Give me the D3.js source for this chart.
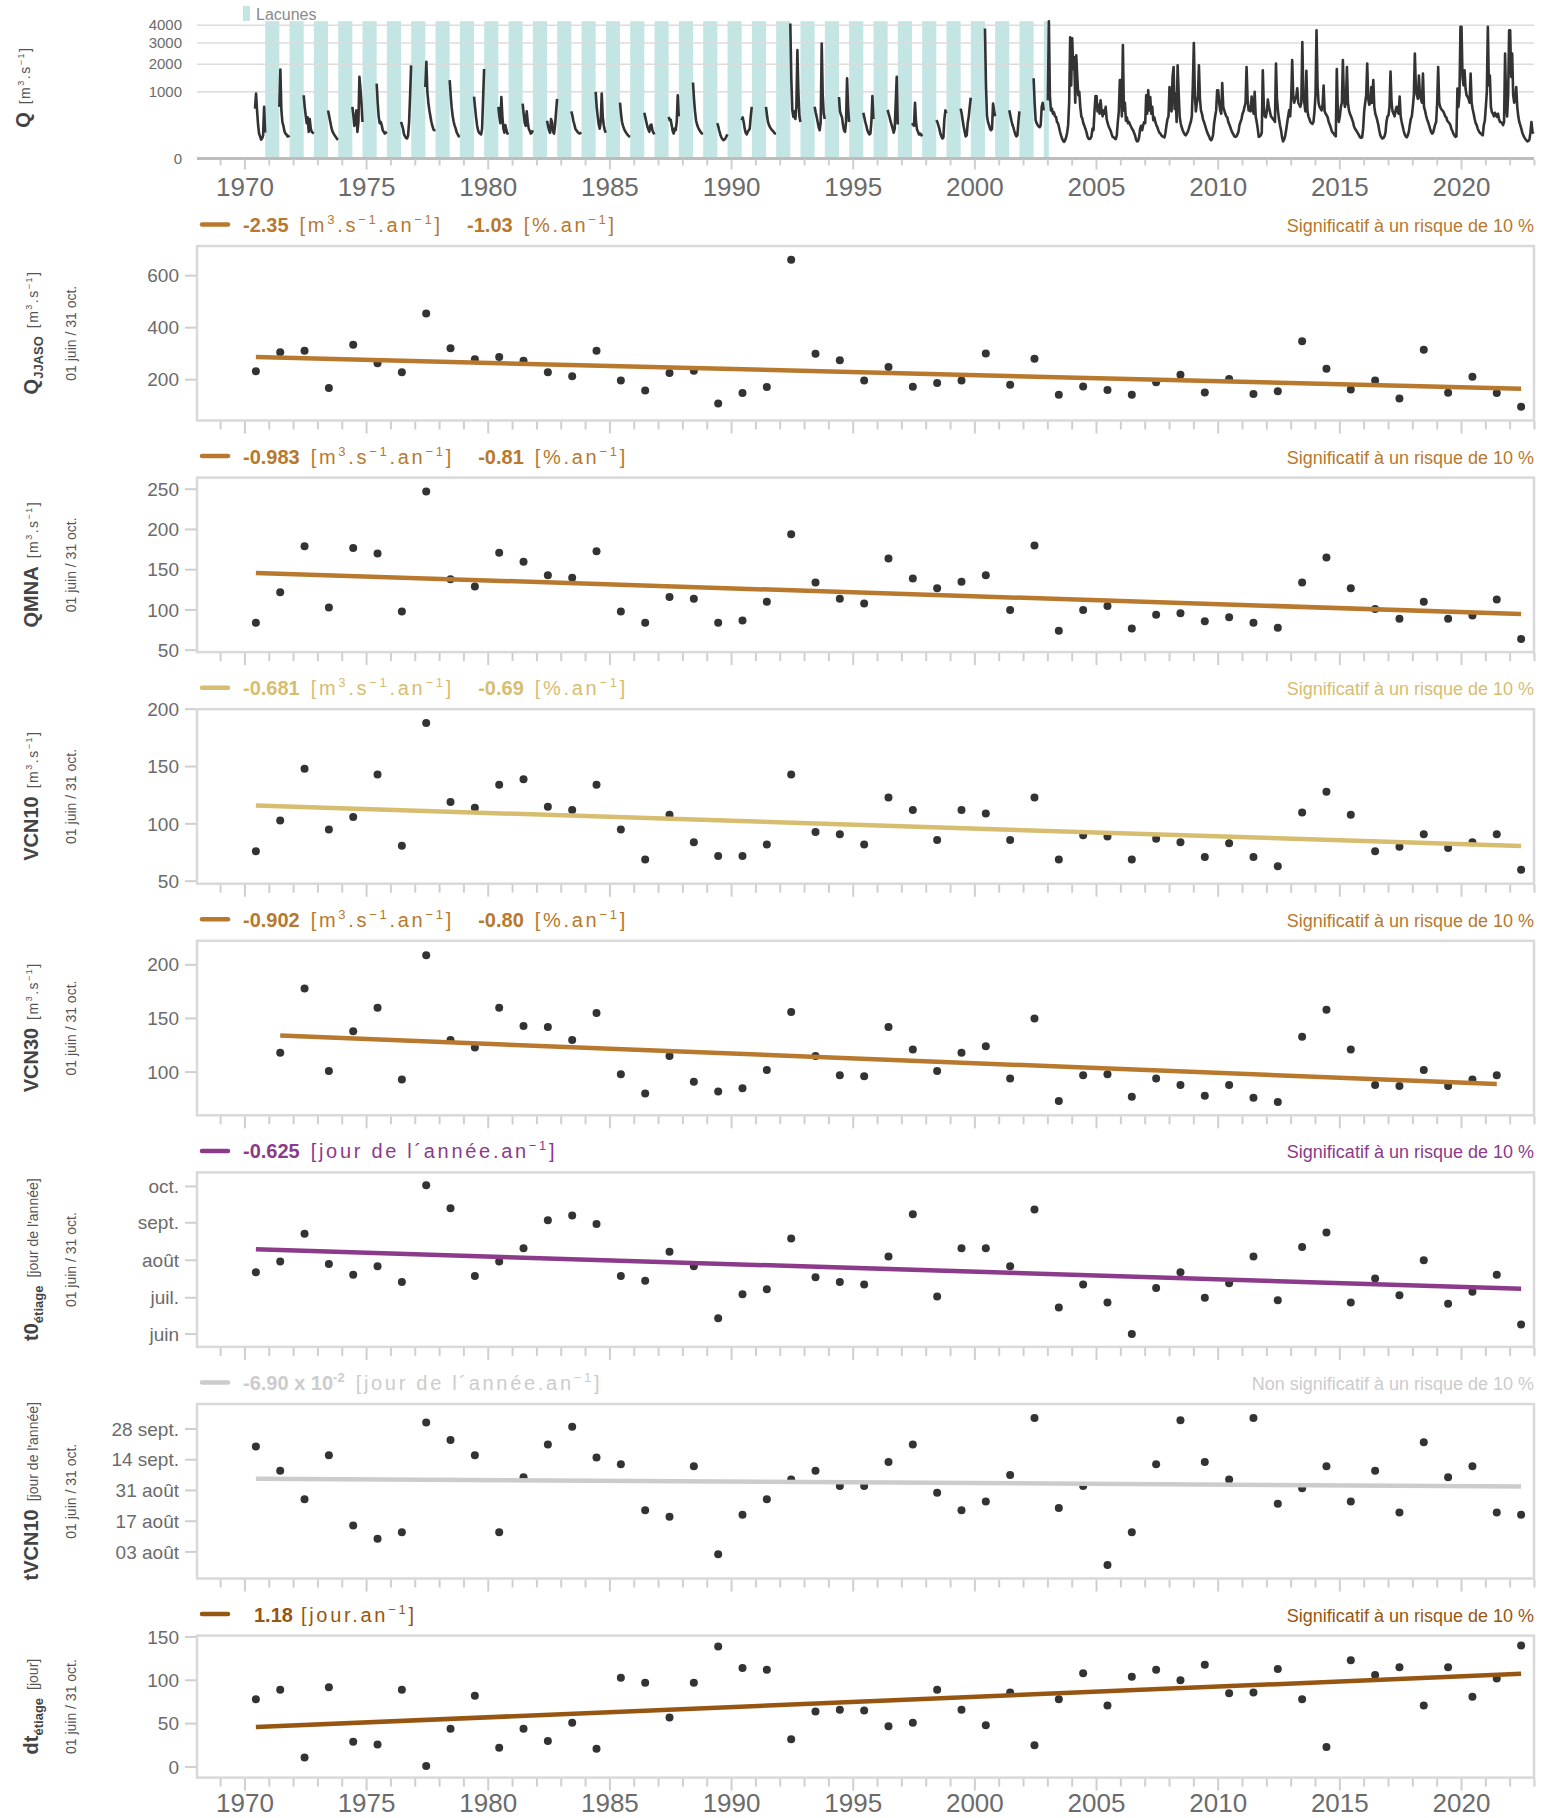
<!DOCTYPE html>
<html>
<head>
<meta charset="utf-8">
<script src="https://cdn.jsdelivr.net/npm/d3@7"></script>
<style>
  body { margin: 0; background: #fff; }
  svg { display: block; }
  text { font-family: "Liberation Sans", Arial, sans-serif; }
</style>
</head>
<body>
<svg id="chart" width="1546" height="1818"></svg>
<script>
// ---------------------------------------------------------------------------
// Data
// ---------------------------------------------------------------------------
const years = d3.range(1970, 2023);

const qjjaso = [232, 305, 311, 168, 334, 263, 229, 454, 321, 279,
  287, 273, 229, 213, 311, 197, 158, 226, 234, 108,
  149, 172, 661, 300, 275, 197, 249, 173, 187, 197,
  301, 180, 280, 142, 174, 160, 142, 190, 219, 151,
  203, 145, 155, 348, 242, 162, 197, 128, 315, 150,
  211, 149, 96];

const qmna = [84, 122, 179, 103, 177, 170, 98, 247, 138, 129,
  171, 160, 143, 140, 173, 98, 84, 116, 114, 84,
  87, 110, 194, 134, 114, 108, 164, 139, 127, 135,
  143, 100, 180, 74, 100, 105, 77, 94, 96, 86,
  91, 84, 78, 134, 165, 127, 101, 89, 110, 89,
  93, 113, 64];

const vcn10 = [76, 103, 148, 95, 106, 143, 81, 188, 119, 114,
  134, 139, 115, 112, 134, 95, 69, 108, 84, 72,
  72, 82, 143, 93, 91, 82, 123, 112, 86, 112,
  109, 86, 123, 69, 90, 89, 69, 87, 84, 71,
  83, 71, 63, 110, 128, 108, 76, 80, 91, 79,
  84, 91, 60];

const vcn30 = [null, 118, 178, 101, 138, 160, 93, 209, 130, 123,
  160, 143, 142, 130, 155, 98, 80, 115, 91, 82,
  85, 102, 156, 115, 97, 96, 142, 121, 101, 118,
  124, 94, 150, 73, 97, 98, 77, 94, 88, 78,
  88, 76, 72, 133, 158, 121, 88, 87, 102, 87,
  93, 97, null];

// day of year
const t0Etiage = [203, 212, 235, 210, 201, 208, 195, 275, 256, 200,
  212, 223, 246, 250, 243, 200, 196, 220, 208, 165,
  185, 189, 231, 199, 195, 193, 216, 251, 183, 223,
  223, 208, 255, 174, 193, 178, 152, 190, 203, 182,
  194, 216, 180, 224, 236, 178, 198, 184, 213, 177,
  187, 201, 160];

const tVcn10 = [263, 252, 239, 259, 227, 221, 224, 274, 266, 259,
  224, 249, 264, 272, 258, 255, 234, 231, 254, 214,
  232, 239, 248, 252, 245, 245, 256, 264, 242, 234,
  238, 250, 276, 235, 245, 209, 224, 255, 275, 256,
  248, 276, 237, 244, 254, 238, 252, 233, 265, 249,
  254, 233, 232];

const dtEtiage = [78, 89, 11, 92, 29, 26, 89, 1, 44, 82,
  22, 44, 30, 51, 21, 103, 97, 57, 97, 139,
  114, 112, 32, 64, 66, 65, 47, 51, 89, 66,
  48, 86, 25, 78, 108, 71, 104, 112, 100, 118,
  85, 86, 113, 78, 23, 123, 106, 115, 71, 115,
  81, 102, 140];

// trend: slope per year and value at first plotted year
const trendSlopes = [-2.35, -0.983, -0.681, -0.902, -0.625, -0.069, 1.18];
const trendStarts = [287, 146, 116, 134, 222, 248.4, 46];

// daily flow, summer only (1 June -> 31 Oct, ~15-day steps), 1970-2002
const qSummer = [
  [560, 950, 520, 260, 140, 110, 80, 90, 120, 600, 150],
  [600, 1780, 520, 300, 240, 170, 140, 130, 110, 110, 120],
  [900, 600, 420, 280, 380, 160, 350, 200, 160, 150, 140],
  [520, 420, 320, 240, 180, 150, 130, 115, 100, 85, 80],
  [600, 420, 240, 350, 520, 160, 300, 1500, 1100, 700, 300],
  [1260, 700, 390, 280, 300, 250, 180, 160, 140, 150, 160],
  [300, 250, 200, 130, 110, 95, 90, 120, 300, 900, 1950],
  [1150, 2100, 1000, 700, 520, 400, 300, 240, 190, 180, 180],
  [1380, 900, 580, 400, 300, 240, 200, 150, 130, 110, 105],
  [860, 600, 390, 250, 180, 150, 140, 130, 200, 800, 1800],
  [600, 400, 280, 850, 400, 200, 150, 250, 180, 140, 150],
  [680, 450, 290, 240, 500, 300, 200, 170, 140, 150, 180],
  [320, 240, 180, 150, 350, 300, 160, 140, 250, 500, 800],
  [500, 420, 320, 260, 200, 180, 160, 150, 140, 145, 150],
  [1000, 600, 400, 260, 200, 300, 950, 400, 250, 180, 150],
  [700, 450, 300, 240, 200, 170, 150, 135, 120, 110, 105],
  [470, 380, 300, 230, 190, 160, 250, 260, 180, 150, 130],
  [390, 330, 340, 250, 170, 140, 200, 180, 300, 900, 400],
  [1300, 800, 500, 330, 260, 220, 190, 170, 150, 140, 140],
  [280, 230, 170, 130, 100, 85, 75, 80, 90, 110, 130],
  [330, 380, 300, 200, 150, 130, 160, 180, 200, 400, 600],
  [600, 420, 300, 250, 220, 200, 180, 170, 150, 140, 140],
  [4100, 1400, 520, 390, 500, 350, 600, 2640, 1000, 400, 300],
  [600, 480, 390, 300, 220, 180, 300, 2970, 900, 450, 350],
  [850, 500, 430, 380, 250, 180, 160, 300, 1450, 600, 300],
  [470, 380, 300, 240, 180, 150, 130, 140, 300, 880, 350],
  [530, 450, 380, 300, 250, 200, 150, 200, 700, 1500, 260],
  [280, 260, 240, 700, 300, 190, 160, 130, 140, 130, 110],
  [330, 300, 250, 200, 140, 110, 90, 100, 350, 520, 460],
  [560, 460, 330, 230, 160, 110, 120, 280, 390, 600, 830],
  [3800, 1200, 400, 300, 250, 200, 180, 200, 680, 520, 400],
  [525, 420, 330, 260, 220, 170, 130, 110, 120, 300, 500],
  [1450, 700, 330, 280, 250, 230, 220, 250, 600, 700, 520]
];

// daily flow, full years (half-month steps), 2003-2022
const qContinuous = [
  [760, 4240, 900, 520, 560, 450, 480, 400, 390, 300, 280, 220, 160, 120, 90, 70, 62, 75, 100, 150, 250, 700, 3300, 1200],
  [3250, 1800, 2300, 700, 2400, 1500, 900, 1000, 600, 400, 360, 280, 240, 200, 160, 110, 90, 85, 90, 110, 200, 180, 500, 880],
  [880, 500, 650, 450, 760, 500, 400, 520, 450, 600, 350, 280, 230, 200, 170, 130, 105, 100, 90, 85, 120, 300, 500, 1380],
  [1380, 400, 2900, 520, 700, 320, 380, 280, 300, 260, 230, 200, 180, 150, 120, 80, 65, 70, 100, 200, 240, 180, 250, 300],
  [280, 900, 450, 1050, 520, 850, 450, 600, 330, 380, 300, 250, 220, 180, 150, 140, 120, 110, 105, 100, 150, 250, 350, 400],
  [1150, 600, 500, 1500, 1880, 550, 950, 300, 1950, 1000, 400, 280, 220, 180, 150, 130, 120, 140, 160, 200, 250, 300, 400, 1200],
  [3000, 900, 500, 700, 850, 1950, 800, 520, 450, 350, 300, 250, 200, 160, 130, 110, 85, 75, 90, 130, 280, 400, 520, 1050],
  [1050, 700, 520, 450, 1280, 600, 520, 450, 400, 380, 300, 260, 220, 180, 150, 130, 110, 105, 110, 130, 160, 250, 300, 350],
  [450, 500, 600, 700, 1880, 800, 520, 600, 500, 860, 600, 450, 1000, 400, 300, 200, 105, 110, 120, 150, 1750, 600, 400, 380],
  [500, 780, 600, 500, 400, 380, 350, 330, 300, 2030, 800, 500, 350, 250, 180, 100, 65, 80, 110, 180, 280, 400, 525, 400],
  [800, 2180, 900, 700, 800, 860, 1110, 700, 650, 600, 700, 3050, 900, 700, 500, 1730, 520, 400, 350, 300, 280, 270, 300, 500],
  [900, 3700, 1200, 700, 600, 560, 520, 650, 1200, 500, 450, 420, 380, 300, 260, 220, 170, 150, 140, 120, 110, 1800, 500, 300],
  [400, 600, 700, 2180, 800, 600, 700, 1880, 700, 520, 450, 400, 350, 300, 230, 200, 180, 160, 140, 120, 100, 95, 100, 200],
  [500, 700, 900, 2030, 800, 650, 680, 1150, 700, 1380, 600, 450, 390, 320, 250, 170, 120, 100, 90, 95, 110, 150, 300, 400],
  [420, 600, 1700, 700, 500, 450, 400, 520, 600, 500, 450, 860, 400, 300, 230, 170, 130, 110, 100, 120, 160, 250, 350, 400],
  [600, 900, 2480, 1100, 900, 800, 1550, 900, 800, 700, 1620, 600, 520, 420, 350, 300, 250, 200, 160, 140, 150, 200, 260, 300],
  [700, 1880, 700, 600, 550, 520, 500, 450, 400, 380, 320, 300, 280, 250, 200, 170, 140, 120, 105, 110, 1100, 600, 900, 3900],
  [3900, 1500, 1200, 1750, 1100, 900, 860, 800, 700, 1620, 700, 550, 450, 350, 280, 250, 200, 170, 150, 140, 130, 120, 250, 320],
  [600, 1000, 3900, 1200, 1550, 600, 480, 450, 400, 470, 420, 390, 450, 350, 300, 300, 280, 250, 300, 2480, 700, 400, 900, 3700],
  [3700, 1500, 2480, 900, 700, 800, 1150, 600, 400, 300, 250, 200, 150, 120, 100, 85, 75, 65, 70, 80, 150, 300, 160, 140]
];

const qTicks = [0, 1000, 2000, 3000, 4000];
const yearLabels = d3.range(1970, 2021, 5);
const monthTicks = [152, 182, 213, 244, 274];
const monthLabels = ["juin", "juil.", "août", "sept.", "oct."];
const dayTicks = [215, 229, 243, 257, 271];
const dayLabels = ["03 août", "17 août", "31 août", "14 sept.", "28 sept."];

// ---------------------------------------------------------------------------
// Setup
// ---------------------------------------------------------------------------
const svg = d3.select("#chart");
const left = 197, right = 1534;
const x = d3.scaleLinear().domain([1968.03, 2022.98]).range([left, right]);
const pointOffset = 0.45;
const tickGray = "#cfcfcf";
const labelGray = "#6b6b6b";

// rich text helper: tspans with superscripts / subscripts
function rich(text, parts) {
  let shift = 0;
  parts.forEach(p => {
    const target = p.sup ? -p.sup : p.sub ? p.sub : 0;
    const ts = text.append("tspan")
      .attr("dy", target - shift)
      .attr("dx", p.dx || 0)
      .style("font-size", p.size + "px")
      .text(p.t);
    if (p.bold) ts.style("font-weight", "bold");
    if (p.ls) ts.style("letter-spacing", p.ls + "px");
    if (p.fill) ts.attr("fill", p.fill);
    shift = target;
  });
}

const m3sUnits = [
  { t: "[m", size: 14, dx: 8, ls: 1.5, fill: "#555" },
  { t: "3", size: 9, sup: 6, ls: 1.5, fill: "#555" },
  { t: ".s", size: 14, ls: 1.5, fill: "#555" },
  { t: "−1", size: 9, sup: 6, ls: 1.5, fill: "#555" },
  { t: "]", size: 14, fill: "#555" }
];

function yearTicks(g, y0, minor, major) {
  const yrs = d3.range(1969, 2024);
  g.selectAll("line.xt").data(yrs).join("line")
    .attr("class", "xt")
    .attr("x1", d => x(d)).attr("x2", d => x(d))
    .attr("y1", y0).attr("y2", d => y0 + (d % 5 === 0 ? major : minor))
    .attr("stroke", tickGray).attr("stroke-width", 2);
}

function yearText(g, yb) {
  g.selectAll("text.yl").data(yearLabels).join("text")
    .attr("class", "yl")
    .attr("x", d => x(d)).attr("y", yb)
    .attr("text-anchor", "middle")
    .attr("fill", labelGray)
    .style("font-size", "26px")
    .text(d => d);
}

// ---------------------------------------------------------------------------
// 1) Q panel (daily flow, sqrt scale)
// ---------------------------------------------------------------------------
const qg = svg.append("g");
const yq = d3.scaleSqrt().domain([0, 4240]).range([158.5, 21.2]).clamp(true);

const bands = d3.range(1970, 2003).map(yr => [yr + 0.833, Math.min(yr + 1.415, 2003.04)]);
qg.selectAll("rect.band").data(bands).join("rect")
  .attr("class", "band")
  .attr("x", d => x(d[0])).attr("width", d => x(d[1]) - x(d[0]))
  .attr("y", yq(4240)).attr("height", yq(0) - yq(4240))
  .attr("fill", "#c3e6e5");

qg.selectAll("line.grid").data(qTicks.slice(1)).join("line")
  .attr("class", "grid")
  .attr("x1", left).attr("x2", right)
  .attr("y1", d => yq(d)).attr("y2", d => yq(d))
  .attr("stroke", "#dcdcdc").attr("stroke-width", 1.5);

qg.selectAll("text.qt").data(qTicks).join("text")
  .attr("class", "qt")
  .attr("x", 182).attr("y", d => yq(d)).attr("dy", "0.35em")
  .attr("text-anchor", "end").attr("fill", labelGray)
  .style("font-size", "15px")
  .text(d => d);

const summerSteps = d3.range(11).map(i => 0.415 + i * 0.0415);
const qSegments = qSummer.map((vals, k) => vals.map((v, i) => [1970 + k + summerSteps[i], v]));
qSegments.push(qContinuous.flatMap((vals, k) => vals.map((v, i) => [2003 + k + i / 24, v])));

const qLine = d3.line().x(d => x(d[0])).y(d => yq(d[1]));
qg.selectAll("path.q").data(qSegments).join("path")
  .attr("class", "q")
  .attr("d", qLine)
  .attr("fill", "none").attr("stroke", "#333").attr("stroke-width", 2.6)
  .attr("stroke-linejoin", "round");

qg.append("line")
  .attr("x1", left).attr("x2", right)
  .attr("y1", yq(0)).attr("y2", yq(0))
  .attr("stroke", "#bdbdbd").attr("stroke-width", 3);

yearTicks(qg, yq(0) + 1, 6, 10);
yearText(qg, 196);

// lacunes legend
qg.append("rect").attr("x", 243).attr("y", 6).attr("width", 7).attr("height", 15).attr("fill", "#c3e6e5");
qg.append("text").attr("x", 256).attr("y", 20).attr("fill", "#8a8a8a")
  .style("font-size", "16px").text("Lacunes");

const qTitle = qg.append("text")
  .attr("transform", "translate(30,88) rotate(-90)")
  .attr("text-anchor", "middle").attr("fill", "#444");
rich(qTitle, [{ t: "Q", size: 20, bold: true }].concat(m3sUnits));

// ---------------------------------------------------------------------------
// 2) Trend panels
// ---------------------------------------------------------------------------
const LS = 2.7;
const supU = (t) => ({ t, size: 13, sup: 8, ls: LS });
const flowLegend = (v1, v2) => [
  { t: v1, size: 20, bold: true },
  { t: "[m", size: 20, dx: 11, ls: LS }, supU("3"), { t: ".s", size: 20, ls: LS },
  supU("−1"), { t: ".an", size: 20, ls: LS }, supU("−1"), { t: "]", size: 20 },
  { t: v2, size: 20, bold: true, dx: 27 },
  { t: "[%.an", size: 20, dx: 11, ls: LS }, supU("−1"), { t: "]", size: 20 }
];
const dayLegend = [
  { t: "[jour de l´année.an", size: 20, dx: 11, ls: LS }, supU("−1"), { t: "]", size: 20 }
];

const panels = [
  { name: "Q", sub: "JJASO", units: m3sUnits, values: qjjaso, color: "#b8782d",
    domain: [43, 714], h: 174.5, ticks: [200, 400, 600], legend: flowLegend("-2.35", "-1.03"), signif: true },
  { name: "QMNA", units: m3sUnits, values: qmna, color: "#b8782d",
    domain: [47.6, 264.4], h: 174.5, ticks: [50, 100, 150, 200, 250], legend: flowLegend("-0.983", "-0.81"), signif: true },
  { name: "VCN10", units: m3sUnits, values: vcn10, color: "#d7bd70",
    domain: [47.8, 200], h: 174.5, ticks: [50, 100, 150, 200], legend: flowLegend("-0.681", "-0.69"), signif: true },
  { name: "VCN30", units: m3sUnits, values: vcn30, color: "#b8782d",
    domain: [59.7, 222.4], h: 174.5, ticks: [100, 150, 200], legend: flowLegend("-0.902", "-0.80"), signif: true },
  { name: "t0", sub: "étiage", units: [{ t: "[jour de l'année]", size: 14, dx: 8, fill: "#555" }],
    values: t0Etiage, color: "#8c3a8a",
    domain: [141.4, 285.6], h: 174.5, ticks: monthTicks, tickLabels: monthLabels,
    legend: [{ t: "-0.625", size: 20, bold: true }].concat(dayLegend), signif: true },
  { name: "tVCN10", units: [{ t: "[jour de l'année]", size: 14, dx: 8, fill: "#555" }],
    values: tVcn10, color: "#cccccc",
    domain: [202.9, 282.4], h: 174.5, ticks: dayTicks, tickLabels: dayLabels,
    legend: [{ t: "-6.90 x 10", size: 20, bold: true }, { t: "-2", size: 13, sup: 8, bold: true }].concat(dayLegend), signif: false },
  { name: "dt", sub: "étiage", units: [{ t: "[jour]", size: 14, dx: 8, fill: "#555" }],
    values: dtEtiage, color: "#975512",
    domain: [-12.3, 151.5], h: 142, ticks: [0, 50, 100, 150],
    legend: [{ t: "1.18", size: 20, bold: true, dx: 11 },
      { t: "[jour.an", size: 20, dx: 8, ls: LS }, supU("−1"), { t: "]", size: 20 }], signif: true }
];

panels.forEach((p, i) => {
  const top = 246 + i * 231.6;
  const bottom = top + p.h;
  const g = svg.append("g");
  const y = d3.scaleLinear().domain(p.domain).range([bottom, top]);

  g.append("rect")
    .attr("x", left).attr("y", top).attr("width", right - left).attr("height", p.h)
    .attr("fill", "none").attr("stroke", "#d9d9d9").attr("stroke-width", 2.5);

  // y axis
  g.selectAll("line.yt").data(p.ticks).join("line")
    .attr("class", "yt")
    .attr("x1", 185).attr("x2", left - 1)
    .attr("y1", d => y(d)).attr("y2", d => y(d))
    .attr("stroke", tickGray).attr("stroke-width", 2);
  g.selectAll("text.ytl").data(p.ticks).join("text")
    .attr("class", "ytl")
    .attr("x", 179).attr("y", d => y(d)).attr("dy", "0.35em")
    .attr("text-anchor", "end").attr("fill", labelGray)
    .style("font-size", "19px")
    .text((d, k) => p.tickLabels ? p.tickLabels[k] : d);

  yearTicks(g, bottom + 1, 8, 12);

  // points
  const pts = years.map((yr, k) => ({ yr, v: p.values[k] })).filter(d => d.v != null);
  g.selectAll("circle").data(pts).join("circle")
    .attr("cx", d => x(d.yr + pointOffset)).attr("cy", d => y(d.v))
    .attr("r", 4).attr("fill", "#333");

  // trend line
  const y0 = pts[0].yr, y1 = pts[pts.length - 1].yr;
  const slope = trendSlopes[i], start = trendStarts[i];
  g.append("line")
    .attr("x1", x(y0 + pointOffset)).attr("y1", y(start))
    .attr("x2", x(y1 + pointOffset)).attr("y2", y(start + slope * (y1 - y0)))
    .attr("stroke", p.color).attr("stroke-width", 4.5);

  // legend
  g.append("line")
    .attr("x1", 202).attr("x2", 228)
    .attr("y1", top - 21.5).attr("y2", top - 21.5)
    .attr("stroke", p.color).attr("stroke-width", 4.5).attr("stroke-linecap", "round");
  const lt = g.append("text").attr("x", 243).attr("y", top - 14).attr("fill", p.color);
  rich(lt, p.legend);
  g.append("text")
    .attr("x", right).attr("y", top - 14)
    .attr("text-anchor", "end").attr("fill", p.color)
    .style("font-size", "18px")
    .text(p.signif ? "Significatif à un risque de 10 %" : "Non significatif à un risque de 10 %");

  // y titles
  const mid = (top + bottom) / 2;
  const tt = g.append("text")
    .attr("transform", `translate(38,${mid}) rotate(-90)`)
    .attr("text-anchor", "middle").attr("fill", "#444");
  const parts = [{ t: p.name, size: 20, bold: true }];
  if (p.sub) parts.push({ t: p.sub, size: 13, bold: true, sub: 5 });
  rich(tt, parts.concat(p.units));
  g.append("text")
    .attr("transform", `translate(76,${mid}) rotate(-90)`)
    .attr("text-anchor", "middle").attr("fill", "#555")
    .style("font-size", "14px")
    .text("01 juin / 31 oct.");

  if (i === panels.length - 1) yearText(g, 1812);
});
</script>
</body>
</html>
